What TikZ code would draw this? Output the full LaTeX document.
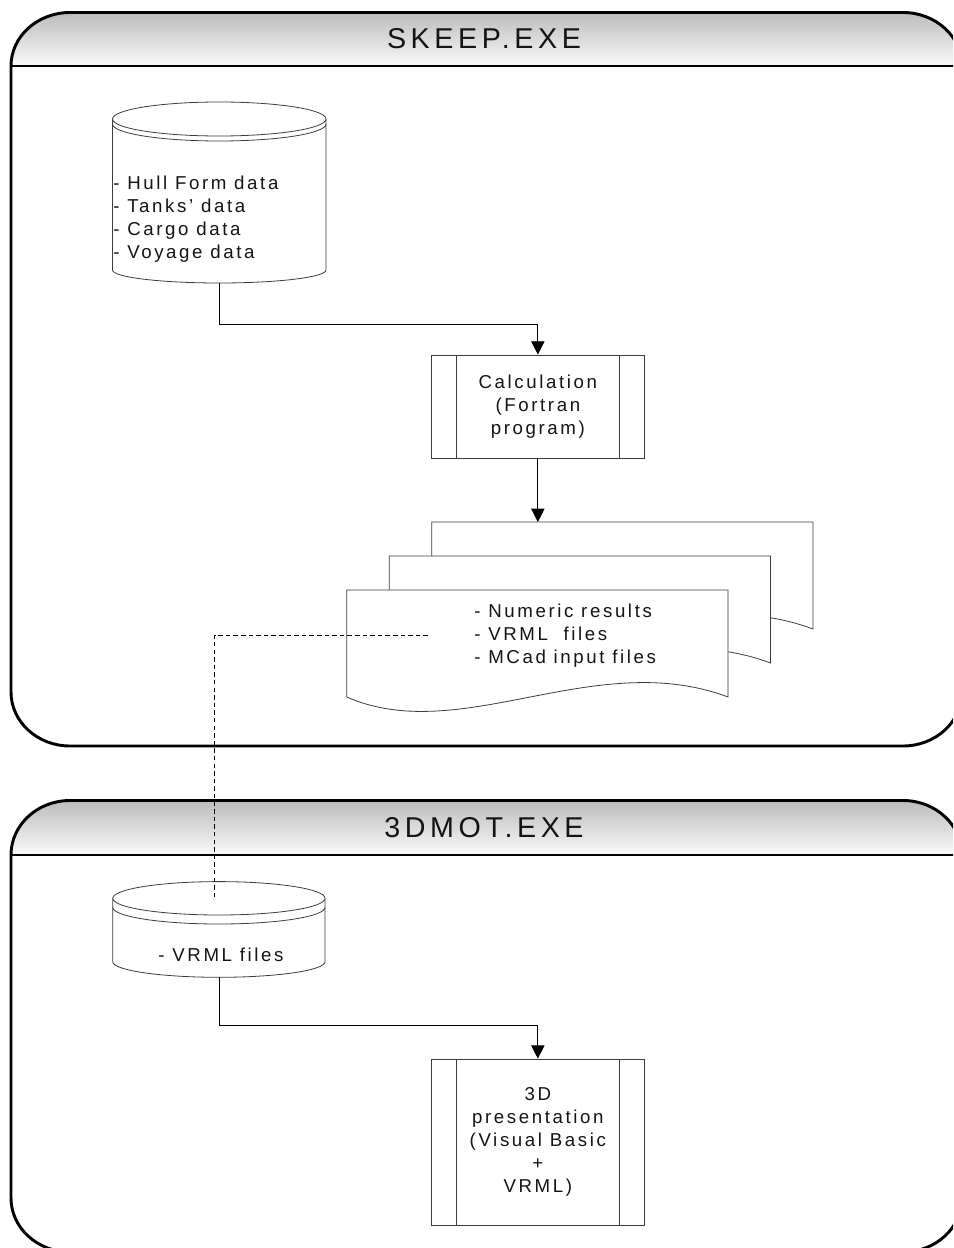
\documentclass[tikz,border=0pt]{standalone}
\usepackage{fontspec}
\setmainfont{Liberation Sans}
\newfontfamily\bodyfont[LetterSpace=14]{Liberation Sans}
\newfontfamily\titlefont[LetterSpace=16]{Liberation Sans}
\usetikzlibrary{arrows.meta,calc}
\newcommand{\bodytext}{\bodyfont\fontsize{14pt}{17.25pt}\selectfont}
\newcommand{\titletext}{\titlefont\fontsize{21.5pt}{25pt}\selectfont}
\definecolor{hdrtop}{RGB}{188,188,188}
\definecolor{hdrbot}{RGB}{250,250,250}
\definecolor{shapeline}{RGB}{60,60,60}
\definecolor{txt}{RGB}{20,20,20}
% cylinder: xc, rx, y of top ellipse centre, ry top, band offset, y of bottom arc centre, ry bottom
\newcommand{\dbcyl}[7]{%
  \draw[thinline, fill=white] (#1-#2,#3) -- (#1-#2,#6)
    .. controls (#1-#2,#6+0.5523*#7) and (#1-0.5523*#2,#6+#7) .. (#1,#6+#7)
    .. controls (#1+0.5523*#2,#6+#7) and (#1+#2,#6+0.5523*#7) .. (#1+#2,#6)
    -- (#1+#2,#3);
  \draw[thinline, fill=white] (#1,#3) ellipse [x radius=#2, y radius=#4];
  \draw[thinline] (#1-#2,#3+#5)
    .. controls (#1-#2,#3+#5+0.5523*#4) and (#1-0.5523*#2,#3+#5+#4) .. (#1,#3+#5+#4)
    .. controls (#1+0.5523*#2,#3+#5+#4) and (#1+#2,#3+#5+0.5523*#4) .. (#1+#2,#3+#5);
}
% document sheet: x left, y top, width, y of bottom ends
\newcommand{\docsheet}[4]{%
  \draw[thinline, fill=white] (#1,#2) -- (#1+#3,#2) -- (#1+#3,#4)
    .. controls (#1+0.65*#3,#4-50) and (#1+0.3*#3,#4+50) .. (#1,#4) -- cycle;
}
\begin{document}
\begin{tikzpicture}[x=0.75pt, y=-0.75pt,
  panel/.style={draw=black, line width=2.2pt},
  hdr/.style={top color=hdrtop, bottom color=hdrbot, draw=none},
  thinline/.style={draw=shapeline, line width=0.6pt},
  conn/.style={draw=black, line width=0.7pt},
  arr/.style={conn, -{Triangle[length=10pt,width=10pt]}},
  dashconn/.style={draw=black, line width=0.7pt, dash pattern=on 3.4pt off 2.3pt},
  procbox/.style={rectangle, draw=shapeline, line width=0.6pt, fill=white, align=center, font=\bodytext, text=txt, inner sep=0pt},
  labeltext/.style={font=\bodytext, text=txt, align=left, inner sep=0pt},
  titletext/.style={font=\titletext, text=txt, inner sep=0pt}]
\useasboundingbox (0,0) rectangle (953,1248);
\clip (0,0) rectangle (953,1248);

% ---------- SKEEP.EXE panel ----------
\path[hdr] (11,66) .. controls (11,36.5) and (37.4,12.5) .. (70,12.5) -- (903,12.5)
  .. controls (935.6,12.5) and (962,36.5) .. (962,66) -- cycle;
\draw[panel] (11,66) .. controls (11,36.5) and (37.4,12.5) .. (70,12.5) -- (903,12.5)
  .. controls (935.6,12.5) and (962,36.5) .. (962,66) -- (962,692)
  .. controls (962,721.8) and (935.6,746) .. (903,746) -- (70,746)
  .. controls (37.4,746) and (11,721.8) .. (11,692) -- cycle;
\draw[panel] (11,66) -- (962,66);
\node[titletext] (title1) at (484,38.5) {SKEEP.EXE};

\dbcyl{219.25}{106.75}{119}{17}{5}{270}{13}
\node[labeltext, anchor=west] (db1txt) at (113,219) {- Hull Form data\\- Tanks’ data\\- Cargo data\\- Voyage data};
\coordinate (db1bot) at (219,283);

\node[procbox, minimum width=159.2pt, minimum height=77.25pt] (calc) at (537.85,406.5) {Calculation\\(Fortran\\program)};
\draw[thinline] ([xshift=19pt]calc.north west) -- ([xshift=19pt]calc.south west);
\draw[thinline] ([xshift=-19pt]calc.north east) -- ([xshift=-19pt]calc.south east);

\docsheet{431.7}{522}{381.3}{629}
\docsheet{389.2}{556}{381.3}{663}
\docsheet{346.7}{590}{381.3}{697}
\coordinate (docstop) at (537.85,522);
\node[labeltext, anchor=west] (doctxt) at (474,636) {- Numeric results\\- VRML~~files\\- MCad input files};
\coordinate (dstart) at (428,635);

\draw[arr] (db1bot) -- ++(0,41) -| (calc.north);
\draw[arr] (calc.south) -- (docstop);

% ---------- 3DMOT.EXE panel ----------
\path[hdr] (11,855) .. controls (11,824.9) and (37.4,800.5) .. (70,800.5) -- (903,800.5)
  .. controls (935.6,800.5) and (962,824.9) .. (962,855) -- cycle;
\draw[panel] (11,855) .. controls (11,824.9) and (37.4,800.5) .. (70,800.5) -- (903,800.5)
  .. controls (935.6,800.5) and (962,824.9) .. (962,855) -- (962,1198)
  .. controls (962,1227.8) and (935.6,1252) .. (903,1252) -- (70,1252)
  .. controls (37.4,1252) and (11,1227.8) .. (11,1198) -- cycle;
\draw[panel] (11,855) -- (962,855);
\node[titletext] (title2) at (484,827.5) {3DMOT.EXE};

\dbcyl{218.9}{106.15}{898.3}{16.7}{9}{961.7}{15.6}
\node[font=\bodytext, text=txt, inner sep=0pt] (db2txt) at (221,955) {- VRML files};
\coordinate (db2top) at (214.5,897);
\coordinate (db2bot) at (219,977.3);

\node[procbox, minimum width=159.2pt, minimum height=125pt] (pres) at (537.85,1142.4) {3D\\presentation\\(Visual Basic\\+\\VRML)};
\draw[thinline] ([xshift=19pt]pres.north west) -- ([xshift=19pt]pres.south west);
\draw[thinline] ([xshift=-19pt]pres.north east) -- ([xshift=-19pt]pres.south east);

\draw[arr] (db2bot) -- ++(0,47.7) -| (pres.north);

% ---------- dashed link ----------
\draw[dashconn] (dstart) -| (db2top);
\end{tikzpicture}
\end{document}
